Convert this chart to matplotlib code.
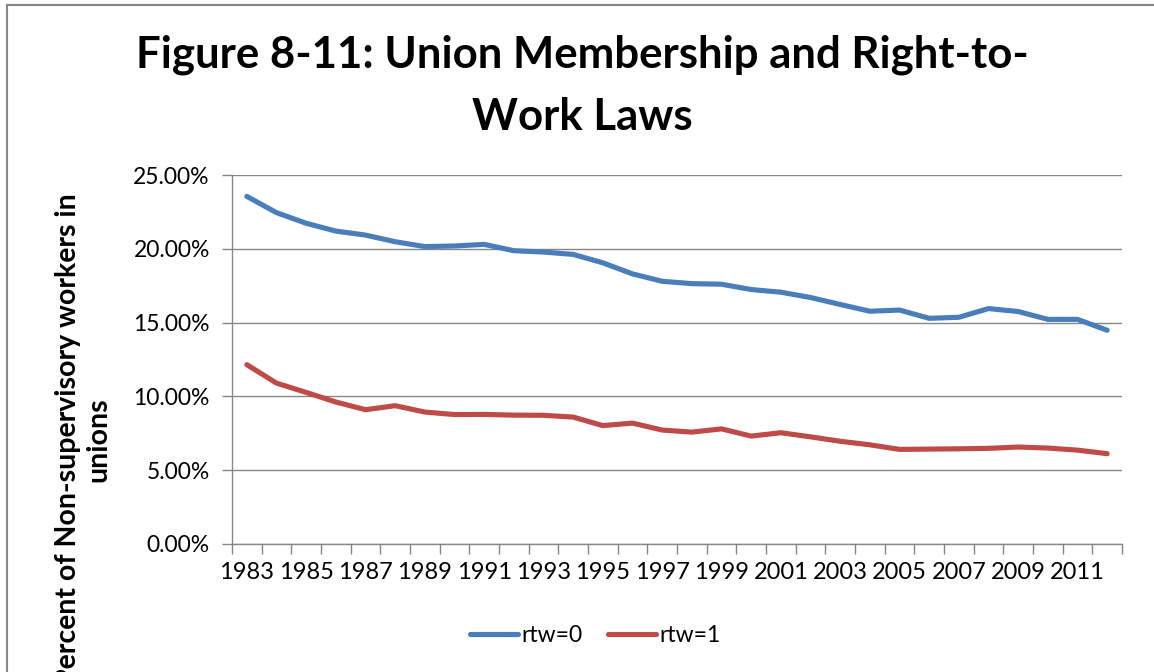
import matplotlib
matplotlib.use("Agg")
import matplotlib.pyplot as plt
from matplotlib.lines import Line2D
from matplotlib.ticker import FuncFormatter, FixedLocator, NullFormatter

years = list(range(1983, 2013))
rtw0 = [23.55, 22.45, 21.73, 21.2, 20.93, 20.48, 20.15, 20.19, 20.3, 19.87,
        19.78, 19.62, 19.05, 18.3, 17.8, 17.64, 17.6, 17.24, 17.06, 16.7,
        16.23, 15.77, 15.85, 15.29, 15.36, 15.95, 15.75, 15.22, 15.22, 14.48]
rtw1 = [12.15, 10.9, 10.27, 9.62, 9.1, 9.37, 8.94, 8.77, 8.78, 8.73,
        8.72, 8.6, 8.02, 8.19, 7.72, 7.58, 7.8, 7.31, 7.54, 7.26,
        6.96, 6.72, 6.41, 6.43, 6.45, 6.48, 6.57, 6.5, 6.36, 6.12]
series_names = ["rtw=0", "rtw=1"]
colors = ["#4a7ebb", "#be4b48"]
title = "Figure 8-11: Union Membership and Right-to-\nWork Laws"
ylabel = "Percent of Non-supervisory workers in\nunions"

plt.rcParams['font.family'] = ['Lato', 'DejaVu Sans']

W, H = 1154, 672
fig = plt.figure(figsize=(W / 100, H / 100), dpi=100)
ax = fig.add_axes([232 / W, 1 - 544 / H, (1122 - 232) / W, (544 - 175) / H])

LW = 3.7
x = list(range(len(years)))
ax.plot(x, rtw0, color=colors[0], lw=LW, solid_capstyle='round', solid_joinstyle='round', label=series_names[0])
ax.plot(x, rtw1, color=colors[1], lw=LW, solid_capstyle='round', solid_joinstyle='round', label=series_names[1])

ax.set_xlim(-0.5, len(years) - 0.5)
ax.set_ylim(0, 25)
ax.set_yticks([0, 5, 10, 15, 20, 25])
ax.yaxis.set_major_formatter(FuncFormatter(lambda v, p: f"{v:.2f}%"))
ax.grid(axis='y', color='#868686', lw=1.0)
ax.set_axisbelow(True)

# category ticks between categories, labels every other category
ax.xaxis.set_major_locator(FixedLocator([i - 0.5 for i in range(len(years) + 1)]))
ax.xaxis.set_major_formatter(NullFormatter())
ax.xaxis.set_minor_locator(FixedLocator(x[::2]))
ax.set_xticklabels([str(y) for y in years[::2]], minor=True)
ax.tick_params(axis='x', which='minor', length=0, pad=13, labelsize=17)
ax.tick_params(axis='x', which='major', length=7, width=1.0, color='#868686', direction='out')
ax.tick_params(axis='y', length=7, width=1.0, color='#868686', labelsize=16.5, pad=9)

for s in ['top', 'right']:
    ax.spines[s].set_visible(False)
for s in ['left', 'bottom']:
    ax.spines[s].set_color('#868686')
    ax.spines[s].set_linewidth(1.0)

fig.text(582 / W, 1 - 86 / H, title, ha='center', va='center', fontsize=31.5,
         fontweight='bold', linespacing=1.68)
fig.text(83 / W, 1 - 440 / H, ylabel, ha='center', va='center', rotation=90,
         fontsize=20.5, fontweight='bold', linespacing=1.2, multialignment='center')

leg = fig.legend(handles=[Line2D([], [], color=colors[0], lw=LW, solid_capstyle='round'),
                          Line2D([], [], color=colors[1], lw=LW, solid_capstyle='round')],
                 labels=series_names, loc='center', bbox_to_anchor=(595 / W, 1 - 636 / H),
                 ncol=2, frameon=False, fontsize=16.5, handlelength=2.1, handletextpad=0.15,
                 columnspacing=1.1)

# chart border (top & left visible)
fig.add_artist(Line2D([7 / W, 1], [1 - 5 / H, 1 - 5 / H], color='#868686', lw=1.5))
fig.add_artist(Line2D([7 / W, 7 / W], [0, 1 - 5 / H], color='#868686', lw=1.5))

fig.savefig("out.png", dpi=100)
